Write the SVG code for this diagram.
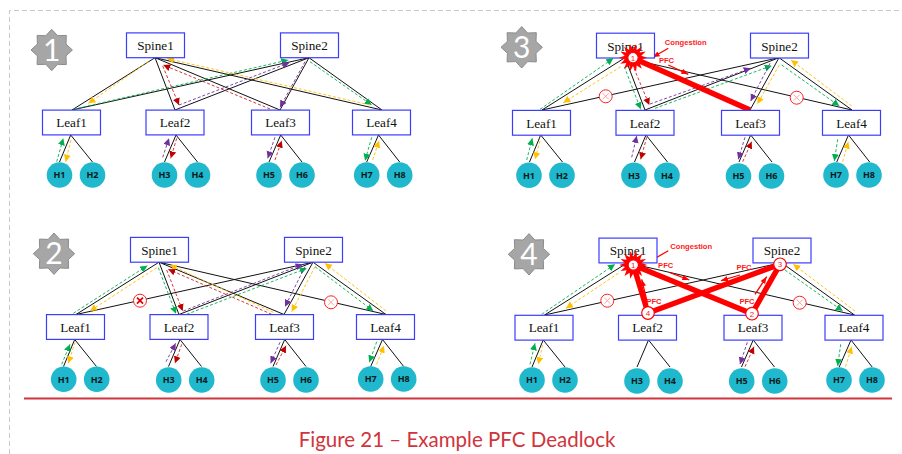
<svg xmlns="http://www.w3.org/2000/svg" width="902" height="454" viewBox="0 0 902 454">
<style>
text{text-anchor:middle}
.box{fill:#fff;stroke:#3c3cff;stroke-width:1.2}
.bt{font:13.2px "Liberation Serif",serif;fill:#111}
.host{fill:#1fb8cd}
.ht{font:bold 9px "Open Sans",sans-serif;fill:#0a1a20}
.k{stroke:#111;stroke-width:1;fill:none}
.d{stroke-width:.9;stroke-dasharray:3 2;fill:none}
.g{stroke:#00b050;marker-end:url(#mg)}
.y{stroke:#ffc000;marker-end:url(#my)}
.r{stroke:#d02020;marker-end:url(#mr)}
.p{stroke:#7030a0;marker-end:url(#mp)}
.fat{stroke:#ff0000;stroke-width:5.4;fill:none}
.pa{stroke:#ff0000;stroke-width:1.3;fill:none;marker-end:url(#ma)}
.lab{font:bold 7.6px "Liberation Sans",sans-serif;fill:#ff1a1a}
.num{font:8px "Liberation Sans",sans-serif;fill:#ff1a1a}
.nc{fill:#fff;stroke:#ff0000;stroke-width:1.2}
.bad{fill:#a6a6a6;stroke:#8c8c8c;stroke-width:1}
.badt{font:30px Lato,"Open Sans",sans-serif;fill:#fff}
.xc{fill:#fff;stroke:#ff2020;stroke-width:1}
.xl{stroke:#ff9a9a;stroke-width:.9}
.xb{stroke:#e00000;stroke-width:1.7}
</style>
<defs>
<marker id="mg" markerUnits="userSpaceOnUse" markerWidth="8" markerHeight="8" refX="7" refY="3.5" orient="auto"><path d="M0 0L7 3.5L0 7Z" fill="#00b050"/></marker>
<marker id="my" markerUnits="userSpaceOnUse" markerWidth="8" markerHeight="8" refX="7" refY="3.5" orient="auto"><path d="M0 0L7 3.5L0 7Z" fill="#ffc000"/></marker>
<marker id="mr" markerUnits="userSpaceOnUse" markerWidth="8" markerHeight="8" refX="7" refY="3.5" orient="auto"><path d="M0 0L7 3.5L0 7Z" fill="#c00000"/></marker>
<marker id="mp" markerUnits="userSpaceOnUse" markerWidth="8" markerHeight="8" refX="7" refY="3.5" orient="auto"><path d="M0 0L7 3.5L0 7Z" fill="#7030a0"/></marker>
<marker id="ma" markerUnits="userSpaceOnUse" markerWidth="8" markerHeight="8" refX="7" refY="3" orient="auto"><path d="M0 .3L7 3L0 5.7Z" fill="#ff0000"/></marker>
<polygon id="burst" fill="#ff0000" points="14,0 8.3,1.9 12.7,6.1 6.7,5.3 8.8,11 3.7,7.7 3.1,13.8 0,8.5 -3.1,13.8 -3.7,7.7 -8.8,11 -6.7,5.3 -12.7,6.1 -8.3,1.9 -14,0 -8.3,-1.9 -12.7,-6.1 -6.7,-5.3 -8.8,-11 -3.7,-7.7 -3.1,-13.8 0,-8.5 3.1,-13.8 3.7,-7.7 8.8,-11 6.7,-5.3 12.7,-6.1 8.3,-1.9"/>
<polygon id="badge" class="bad" points="20.7,0 14.3,5.9 14.6,14.6 5.9,14.3 0,20.7 -5.9,14.3 -14.6,14.6 -14.3,5.9 -20.7,0 -14.3,-5.9 -14.6,-14.6 -5.9,-14.3 0,-20.7 5.9,-14.3 14.6,-14.6 14.3,-5.9"/>
<g id="xcp"><circle class="xc" r="6.5"/><path class="xl" d="M-3 -3L3 3M3 -3L-3 3"/></g>
<g id="xcb"><circle class="xc" r="6.5"/><path class="xb" d="M-3 -3L3 3M3 -3L-3 3"/></g>
<g id="sp"><rect class="box" x="-29" y="-12.4" width="58" height="24.8"/></g>
</defs>
<path d="M9.5 454V10.5H902" fill="none" stroke="#c9c9c9" stroke-dasharray="5 3"/>
<path d="M24 398.5H892" stroke="#d0343c" stroke-width="2"/>
<text id="caption" x="457" y="447" style="font:20.5px Lato,'Open Sans',sans-serif;fill:#d0343c">Figure 21 – Example PFC Deadlock</text>

<g id="connectors">
<g id="connectors-1">
<path class="k" d="M155 57.7L72 110M155 57.7L175 110M155 57.7L280 110M155 57.7L382 110M309 57.7L72 110M309 57.7L175 110M309 57.7L280 110M309 57.7L382 110M70.7 135L59.5 162M70.7 135L92.5 162M176 135L164.5 162M176 135L197.5 162M280.7 135L269 162M280.7 135L302 162M378.5 135L366.7 162M378.5 135L399.7 162"/>
<path class="d g" d="M73.3 109.3L288.3 60"/><path class="d g" d="M310 61.7L371.7 105"/><path class="d y" d="M370 105L167 58.5"/><path class="d y" d="M148.3 61.7L88.3 103.3"/><path class="d r" d="M270 109L163.3 65"/><path class="d r" d="M162.7 66L179 105"/><path class="d p" d="M179 105L289.3 62.7"/><path class="d p" d="M305 61.7L280 107.3"/>
<path class="d g" d="M56.7 161.7L63.3 138.3"/><path class="d y" d="M71 140L65.7 161.7"/><path class="d p" d="M162.7 157.3L169 138.3"/><path class="d r" d="M176.7 138.3L170.7 158.3"/><path class="d p" d="M275 137.3L267.7 158.3"/><path class="d r" d="M275 160L281.7 140.7"/><path class="d g" d="M371.7 137.3L365 160.7"/><path class="d y" d="M372.7 160L379 140.7"/>
</g>
<g id="connectors-2" transform="translate(4 204.5)">
<path class="k" d="M155 57.7L72 110M155 57.7L175 110M155 57.7L280 110M155 57.7L382 110M309 57.7L72 110M309 57.7L175 110M309 57.7L280 110M309 57.7L382 110M70.7 135L59.5 162M70.7 135L92.5 162M176 135L164.5 162M176 135L197.5 162M280.7 135L269 162M280.7 135L302 162M378.5 135L366.7 162M378.5 135L399.7 162"/>
<path class="d g" d="M69.3 108.8L143.3 61.2"/><path class="d y" d="M152.7 63.2L86 106.5"/><path class="d g" d="M154.3 63.2L172 109.2"/><path class="d r" d="M162.7 65.5L178.7 106.5"/><path class="d y" d="M269.3 107.8L166 60.5"/><path class="d r" d="M267.7 109.8L164.3 64.8"/><path class="d p" d="M179.3 106.5L298.7 59.8"/><path class="d g" d="M182.7 109.8L302.7 63.8"/><path class="d p" d="M301 62.2L281 102.2"/><path class="d y" d="M311 62.2L287.7 107.2"/><path class="d g" d="M311 62.2L369.3 106.5"/><path class="d y" d="M382 106.5L321 58.8"/>
<path class="d g" d="M57.7 159.8L66 139.8"/><path class="d y" d="M71 137.8L64.3 158.8"/><path class="d p" d="M162 157.2L171.7 138.8"/><path class="d r" d="M177.7 139.8L171 158.8"/><path class="d p" d="M276 137.8L266.7 158.8"/><path class="d r" d="M272 160.5L282 141.2"/><path class="d g" d="M372.7 137.2L365.3 157.8"/><path class="d y" d="M372.7 159.8L380 141.2"/>
</g>
<g id="connectors-3" transform="translate(470 0)">
<path class="k" d="M155 57.7L72 110M155 57.7L175 110M155 57.7L382 110M309 57.7L72 110M309 57.7L175 110M309 57.7L280 110M309 57.7L382 110M70.7 135L59.5 162M70.7 135L92.5 162M176 135L164.5 162M176 135L197.5 162M280.7 135L269 162M280.7 135L302 162M378.5 135L366.7 162M378.5 135L399.7 162"/>
<path class="d g" d="M70 109.3L143.3 58.3"/><path class="d g" d="M154.3 66.7L170.7 109.3"/><path class="d y" d="M150.7 66.7L93.3 102.7"/><path class="d r" d="M164 68.3L179.3 105"/><path class="d p" d="M180 104L280.7 68.3"/><path class="d g" d="M185 108.3L301.7 65.7"/><path class="d p" d="M300 63.3L280.7 101"/><path class="d y" d="M309.3 65L287.3 104"/><path class="d g" d="M311.7 65L369.3 106"/><path class="d y" d="M381.7 106L321 60"/>
<path class="d g" d="M56.7 160L62.3 138.3"/><path class="d y" d="M70 140.7L65 159.3"/><path class="d p" d="M161.7 157.3L166.7 136"/><path class="d r" d="M176.7 137.3L170.7 159.3"/><path class="d p" d="M275 137.3L268.3 159.3"/><path class="d r" d="M272.7 161.7L281.7 141.7"/><path class="d g" d="M367.7 139.3L364.3 161"/><path class="d y" d="M372.7 161.7L378.3 141.7"/>
<path class="fat" d="M163 58L280 110"/>
<path class="pa" d="M198.3 65L218.3 74.3"/><path class="pa" d="M198.3 48.3L182.7 57.3"/>
</g>
<g id="connectors-4" transform="translate(472.5 205)">
<path class="k" d="M155 57.7L72 110M155 57.7L382 110M309 57.7L72 110M309 57.7L382 110M70.7 135L59.5 162M70.7 135L92.5 162M176 135L164.5 162M176 135L197.5 162M280.7 135L269 162M280.7 135L302 162M378.5 135L366.7 162M378.5 135L399.7 162"/>
<path class="d g" d="M69.2 109.3L142.5 59.3"/><path class="d y" d="M145.8 68.3L93.5 103.3"/><path class="d g" d="M312.5 65L370.2 106"/><path class="d y" d="M382.5 106L320.8 59.3"/>
<path class="d g" d="M57.5 159.3L62.5 138.3"/><path class="d y" d="M70 140L65.8 159.3"/><path class="d p" d="M274.8 137.3L267.5 159.3"/><path class="d r" d="M272.5 161.7L281.5 141.7"/><path class="d g" d="M368.2 139.3L365.2 161"/><path class="d y" d="M373 161.7L379.2 141.7"/>
<path class="fat" d="M160.8 60L175.5 108M175.5 108L307.5 59.3M307.5 59.3L279.5 108.7M279.5 108.7L160.8 60"/>
<path class="pa" d="M197.5 67.7L216.8 75"/><path class="pa" d="M174.2 95L169.2 74.3"/><path class="pa" d="M195.8 45.7L176.8 56.7"/><path class="pa" d="M267.5 70L248.5 75.7"/><path class="pa" d="M282.5 89.3L294.2 71.7"/>
</g>
</g>

<g id="panel-1">
<g id="p1-badge"><use href="#badge" x="51.7" y="50"/><text class="badt" x="51.7" y="60.5">1</text></g>
<g id="p1-spine1"><use href="#sp" x="155.5" y="45.3"/><text class="bt" x="155.5" y="50">Spine1</text></g>
<g id="p1-spine2"><use href="#sp" x="309.5" y="45.3"/><text class="bt" x="309.5" y="50">Spine2</text></g>
<g id="p1-leaf1"><use href="#sp" x="71.5" y="122.5"/><text class="bt" x="71.5" y="127">Leaf1</text></g>
<g id="p1-leaf2"><use href="#sp" x="175" y="122.5"/><text class="bt" x="175" y="127">Leaf2</text></g>
<g id="p1-leaf3"><use href="#sp" x="280.5" y="122.5"/><text class="bt" x="280.5" y="127">Leaf3</text></g>
<g id="p1-leaf4"><use href="#sp" x="381.5" y="122.5"/><text class="bt" x="381.5" y="127">Leaf4</text></g>
<g id="p1-h1"><circle class="host" cx="59.5" cy="175" r="12.8"/><text class="ht" x="59.5" y="178.3">H1</text></g>
<g id="p1-h2"><circle class="host" cx="92.5" cy="175" r="12.8"/><text class="ht" x="92.5" y="178.3">H2</text></g>
<g id="p1-h3"><circle class="host" cx="164.5" cy="175" r="12.8"/><text class="ht" x="164.5" y="178.3">H3</text></g>
<g id="p1-h4"><circle class="host" cx="197.5" cy="175" r="12.8"/><text class="ht" x="197.5" y="178.3">H4</text></g>
<g id="p1-h5"><circle class="host" cx="269" cy="175" r="12.8"/><text class="ht" x="269" y="178.3">H5</text></g>
<g id="p1-h6"><circle class="host" cx="302" cy="175" r="12.8"/><text class="ht" x="302" y="178.3">H6</text></g>
<g id="p1-h7"><circle class="host" cx="366.7" cy="175" r="12.8"/><text class="ht" x="366.7" y="178.3">H7</text></g>
<g id="p1-h8"><circle class="host" cx="399.7" cy="175" r="12.8"/><text class="ht" x="399.7" y="178.3">H8</text></g>
</g>

<g id="panel-2" transform="translate(4 204.5)">
<g id="p2-badge"><use href="#badge" x="50" y="49.2"/><text class="badt" x="50" y="59.7">2</text></g>
<g id="p2-spine1"><use href="#sp" x="155.5" y="45.3"/><text class="bt" x="155.5" y="50">Spine1</text></g>
<g id="p2-spine2"><use href="#sp" x="309.5" y="45.3"/><text class="bt" x="309.5" y="50">Spine2</text></g>
<g id="p2-leaf1"><use href="#sp" x="71.5" y="122.5"/><text class="bt" x="71.5" y="127">Leaf1</text></g>
<g id="p2-leaf2"><use href="#sp" x="175" y="122.5"/><text class="bt" x="175" y="127">Leaf2</text></g>
<g id="p2-leaf3"><use href="#sp" x="280.5" y="122.5"/><text class="bt" x="280.5" y="127">Leaf3</text></g>
<g id="p2-leaf4"><use href="#sp" x="381.5" y="122.5"/><text class="bt" x="381.5" y="127">Leaf4</text></g>
<g id="p2-h1"><circle class="host" cx="59.7" cy="174.8" r="12.8"/><text class="ht" x="59.7" y="178">H1</text></g>
<g id="p2-h2"><circle class="host" cx="92.7" cy="174.8" r="12.8"/><text class="ht" x="92.7" y="178">H2</text></g>
<g id="p2-h3"><circle class="host" cx="164.7" cy="175.5" r="12.8"/><text class="ht" x="164.7" y="178.8">H3</text></g>
<g id="p2-h4"><circle class="host" cx="197.7" cy="175.5" r="12.8"/><text class="ht" x="197.7" y="178.8">H4</text></g>
<g id="p2-h5"><circle class="host" cx="269" cy="175.5" r="12.8"/><text class="ht" x="269" y="178.8">H5</text></g>
<g id="p2-h6"><circle class="host" cx="302" cy="175.5" r="12.8"/><text class="ht" x="302" y="178.8">H6</text></g>
<g id="p2-h7"><circle class="host" cx="366.7" cy="174.5" r="12.8"/><text class="ht" x="366.7" y="177.8">H7</text></g>
<g id="p2-h8"><circle class="host" cx="399.7" cy="174.5" r="12.8"/><text class="ht" x="399.7" y="177.8">H8</text></g>
<g id="p2-x1"><use href="#xcb" x="136" y="96.2"/></g>
<g id="p2-x2"><use href="#xcp" x="327" y="97.8"/></g>
</g>

<g id="panel-3" transform="translate(470 0)">
<g id="p3-badge"><use href="#badge" x="51.7" y="47.3"/><text class="badt" x="51.7" y="57.8">3</text></g>
<g id="p3-spine1"><use href="#sp" x="155.5" y="45.6"/><text class="bt" x="155.5" y="50.5">Spine1</text></g>
<g id="p3-spine2"><use href="#sp" x="309.5" y="45.6"/><text class="bt" x="309.5" y="50.5">Spine2</text></g>
<g id="p3-leaf1"><use href="#sp" x="71.5" y="122.8"/><text class="bt" x="71.5" y="127.5">Leaf1</text></g>
<g id="p3-leaf2"><use href="#sp" x="175" y="122.8"/><text class="bt" x="175" y="127.5">Leaf2</text></g>
<g id="p3-leaf3"><use href="#sp" x="280.5" y="122.8"/><text class="bt" x="280.5" y="127.5">Leaf3</text></g>
<g id="p3-leaf4"><use href="#sp" x="381.5" y="122.8"/><text class="bt" x="381.5" y="127.5">Leaf4</text></g>
<g id="p3-h1"><circle class="host" cx="59" cy="175.3" r="12.8"/><text class="ht" x="59" y="178.6">H1</text></g>
<g id="p3-h2"><circle class="host" cx="92" cy="175.3" r="12.8"/><text class="ht" x="92" y="178.6">H2</text></g>
<g id="p3-h3"><circle class="host" cx="164" cy="175.3" r="12.8"/><text class="ht" x="164" y="178.6">H3</text></g>
<g id="p3-h4"><circle class="host" cx="197" cy="175.3" r="12.8"/><text class="ht" x="197" y="178.6">H4</text></g>
<g id="p3-h5"><circle class="host" cx="268.5" cy="176" r="12.8"/><text class="ht" x="268.5" y="179.3">H5</text></g>
<g id="p3-h6"><circle class="host" cx="301.5" cy="176" r="12.8"/><text class="ht" x="301.5" y="179.3">H6</text></g>
<g id="p3-h7"><circle class="host" cx="366" cy="175" r="12.8"/><text class="ht" x="366" y="178.3">H7</text></g>
<g id="p3-h8"><circle class="host" cx="399" cy="175" r="12.8"/><text class="ht" x="399" y="178.3">H8</text></g>
<g id="p3-x1"><use href="#xcp" x="135.7" y="96.3"/></g>
<g id="p3-x2"><use href="#xcp" x="326.7" y="97.7"/></g>
<g id="p3-n1"><use href="#burst" x="163" y="57.7"/><circle class="nc" cx="163" cy="57.7" r="5.2"/><text class="num" x="163" y="60.5">1</text></g>
<text class="lab" x="215.7" y="45">Congestion</text>
<text class="lab" x="196.5" y="62.5">PFC</text>
</g>

<g id="panel-4" transform="translate(472.5 205)">
<g id="p4-badge"><use href="#badge" x="56.5" y="49.3"/><text class="badt" x="56.5" y="59.8">4</text></g>
<g id="p4-spine1"><use href="#sp" x="155.5" y="45.5"/><text class="bt" x="155.5" y="50.3">Spine1</text></g>
<g id="p4-spine2"><use href="#sp" x="309.5" y="45.5"/><text class="bt" x="309.5" y="50.3">Spine2</text></g>
<g id="p4-leaf1"><use href="#sp" x="71.5" y="122.7"/><text class="bt" x="71.5" y="127.3">Leaf1</text></g>
<g id="p4-leaf2"><use href="#sp" x="175" y="122.7"/><text class="bt" x="175" y="127.3">Leaf2</text></g>
<g id="p4-leaf3"><use href="#sp" x="280.5" y="122.7"/><text class="bt" x="280.5" y="127.3">Leaf3</text></g>
<g id="p4-leaf4"><use href="#sp" x="381.5" y="122.7"/><text class="bt" x="381.5" y="127.3">Leaf4</text></g>
<g id="p4-h1"><circle class="host" cx="59.5" cy="175" r="12.8"/><text class="ht" x="59.5" y="178.3">H1</text></g>
<g id="p4-h2"><circle class="host" cx="92.5" cy="175" r="12.8"/><text class="ht" x="92.5" y="178.3">H2</text></g>
<g id="p4-h3"><circle class="host" cx="164.5" cy="176" r="12.8"/><text class="ht" x="164.5" y="179.3">H3</text></g>
<g id="p4-h4"><circle class="host" cx="197.5" cy="176" r="12.8"/><text class="ht" x="197.5" y="179.3">H4</text></g>
<g id="p4-h5"><circle class="host" cx="269.2" cy="176" r="12.8"/><text class="ht" x="269.2" y="179.3">H5</text></g>
<g id="p4-h6"><circle class="host" cx="302.2" cy="176" r="12.8"/><text class="ht" x="302.2" y="179.3">H6</text></g>
<g id="p4-h7"><circle class="host" cx="366.5" cy="175" r="12.8"/><text class="ht" x="366.5" y="178.3">H7</text></g>
<g id="p4-h8"><circle class="host" cx="399.5" cy="175" r="12.8"/><text class="ht" x="399.5" y="178.3">H8</text></g>
<g id="p4-x1"><use href="#xcp" x="134.8" y="95.7"/></g>
<g id="p4-x2"><use href="#xcp" x="327.2" y="97.7"/></g>
<g id="p4-n1"><use href="#burst" x="160.8" y="60"/><circle class="nc" cx="160.8" cy="60" r="5.2"/><text class="num" x="160.8" y="62.8">1</text></g>
<g id="p4-n4"><circle class="nc" cx="175.5" cy="108" r="6.3"/><text class="num" x="175.5" y="110.8">4</text></g>
<g id="p4-n2"><circle class="nc" cx="279.5" cy="108.7" r="6.3"/><text class="num" x="279.5" y="111.5">2</text></g>
<g id="p4-n3"><circle class="nc" cx="307.5" cy="59.3" r="6.3"/><text class="num" x="307.5" y="62.1">3</text></g>
<text class="lab" x="218.7" y="43.5">Congestion</text>
<text class="lab" x="193.2" y="63.2">PFC</text>
<text class="lab" x="181.5" y="98.5">PFC</text>
<text class="lab" x="271.5" y="64.5">PFC</text>
<text class="lab" x="274.5" y="98.5">PFC</text>
</g>
</svg>
